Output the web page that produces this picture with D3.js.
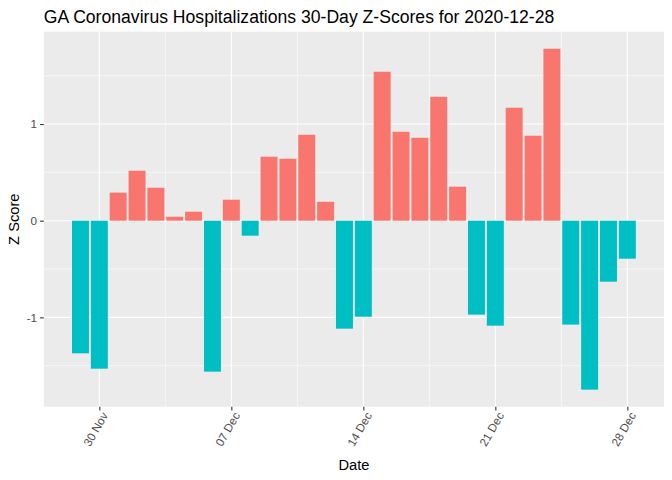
<!DOCTYPE html>
<html>
<head>
<meta charset="utf-8">
<script src="https://cdn.jsdelivr.net/npm/d3@7"></script>
<style>
  body { margin: 0; background: #fff; }
  svg { font-family: "Liberation Sans", Arial, sans-serif; }
</style>
</head>
<body>
<svg id="chart" width="672" height="480"></svg>
<script>
// data
let dates = ["2020-11-29", "2020-11-30", "2020-12-01", "2020-12-02", "2020-12-03",
  "2020-12-04", "2020-12-05", "2020-12-06", "2020-12-07", "2020-12-08",
  "2020-12-09", "2020-12-10", "2020-12-11", "2020-12-12", "2020-12-13",
  "2020-12-14", "2020-12-15", "2020-12-16", "2020-12-17", "2020-12-18",
  "2020-12-19", "2020-12-20", "2020-12-21", "2020-12-22", "2020-12-23",
  "2020-12-24", "2020-12-25", "2020-12-26", "2020-12-27", "2020-12-28"]
let zScores = [-1.372, -1.531, 0.290, 0.517, 0.341, 0.041, 0.093, -1.562, 0.217, -0.155,
  0.662, 0.641, 0.889, 0.196, -1.117, -0.993, 1.541, 0.920, 0.858, 1.282,
  0.352, -0.972, -1.086, 1.169, 0.879, 1.779, -1.075, -1.748, -0.631, -0.393]
let xTicks = ["2020-11-30", "2020-12-07", "2020-12-14", "2020-12-21", "2020-12-28"]
let yTicks = [-1, 0, 1]
let yMinor = [-1.5, -0.5, 0.5, 1.5]

let parse = d3.utcParse("%Y-%m-%d")
let data = dates.map((d, i) => ({ date: parse(d), z: zScores[i] }))
let day = 864e5

let margin = { top: 31.7, right: 8, bottom: 73.3, left: 43.8 }
let w = 672, h = 480
let svg = d3.select("#chart")

// ggplot-like domain: bar width 0.9 day, 5% expansion
let xMin = +data[0].date - 0.45 * day
let xMax = +data[data.length - 1].date + 0.45 * day
let xPad = (xMax - xMin) * 0.05
let x = d3.scaleUtc()
  .domain([new Date(xMin - xPad), new Date(xMax + xPad)])
  .range([margin.left, w - margin.right])

let zExt = d3.extent(zScores)
let yPad = (zExt[1] - zExt[0]) * 0.05
let y = d3.scaleLinear()
  .domain([zExt[0] - yPad, zExt[1] + yPad])
  .range([h - margin.bottom, margin.top])

let tickDates = xTicks.map(parse)
let xMinor = tickDates.slice(0, -1).map(d => new Date(+d + 3.5 * day))
  .concat([new Date(+tickDates[0] - 3.5 * day), new Date(+tickDates[4] + 3.5 * day)])
  .filter(d => d >= x.domain()[0] && d <= x.domain()[1])

// panel
svg.append("rect")
  .attr("x", margin.left).attr("y", margin.top)
  .attr("width", w - margin.right - margin.left)
  .attr("height", h - margin.bottom - margin.top)
  .attr("fill", "#EBEBEB")

let grid = svg.append("g")
grid.selectAll(".ym").data(yMinor).enter().append("line")
  .attr("x1", margin.left).attr("x2", w - margin.right)
  .attr("y1", d => y(d)).attr("y2", d => y(d))
  .attr("stroke", "#fff").attr("stroke-width", 0.55)
grid.selectAll(".xm").data(xMinor).enter().append("line")
  .attr("y1", margin.top).attr("y2", h - margin.bottom)
  .attr("x1", d => x(d)).attr("x2", d => x(d))
  .attr("stroke", "#fff").attr("stroke-width", 0.55)
grid.selectAll(".yM").data(yTicks).enter().append("line")
  .attr("x1", margin.left).attr("x2", w - margin.right)
  .attr("y1", d => y(d)).attr("y2", d => y(d))
  .attr("stroke", "#fff").attr("stroke-width", 1.1)
grid.selectAll(".xM").data(tickDates).enter().append("line")
  .attr("y1", margin.top).attr("y2", h - margin.bottom)
  .attr("x1", d => x(d)).attr("x2", d => x(d))
  .attr("stroke", "#fff").attr("stroke-width", 1.1)

// bars
let bw = x(new Date(+data[0].date + 0.9 * day)) - x(data[0].date)
svg.append("g").selectAll("rect")
  .data(data)
  .enter()
  .append("rect")
  .attr("x", d => x(d.date) - bw / 2)
  .attr("width", bw)
  .attr("y", d => y(Math.max(0, d.z)))
  .attr("height", d => Math.abs(y(d.z) - y(0)))
  .attr("fill", d => d.z > 0 ? "#F8766D" : "#00BFC4")

// axes
let yAxis = svg.append("g")
  .attr("transform", "translate(" + margin.left + ",0)")
  .call(d3.axisLeft(y).tickValues(yTicks).tickSize(3.7).tickPadding(3).tickFormat(d3.format("d")))
yAxis.select(".domain").remove()
yAxis.selectAll("line").attr("stroke", "#333").attr("stroke-width", 1.1)
yAxis.selectAll("text").attr("fill", "#4D4D4D").style("font-size", "11.7px")
  .text(d => d < 0 ? "-" + Math.abs(d) : d)

let xAxis = svg.append("g")
  .attr("transform", "translate(0," + (h - margin.bottom) + ")")
  .call(d3.axisBottom(x).tickValues(tickDates).tickSize(3.7).tickFormat(d3.utcFormat("%d %b")))
xAxis.select(".domain").remove()
xAxis.selectAll("line").attr("stroke", "#333").attr("stroke-width", 1.1)
xAxis.selectAll("text")
  .attr("fill", "#4D4D4D").style("font-size", "11.7px")
  .attr("text-anchor", "end")
  .attr("dy", null)
  .attr("y", 0)
  .attr("transform", "translate(6,7) rotate(-60)")
  .attr("dominant-baseline", "middle")

// labels
svg.append("text")
  .attr("x", (margin.left + w - margin.right) / 2).attr("y", 470)
  .attr("text-anchor", "middle")
  .style("font-size", "14.7px")
  .text("Date")

svg.append("text")
  .attr("transform", "translate(19," + ((margin.top + h - margin.bottom) / 2) + ") rotate(-90)")
  .attr("text-anchor", "middle")
  .style("font-size", "14.7px")
  .text("Z Score")

svg.append("text")
  .attr("x", margin.left).attr("y", 23)
  .style("font-size", "17.6px")
  .text("GA Coronavirus Hospitalizations 30-Day Z-Scores for 2020-12-28")
</script>
</body>
</html>
